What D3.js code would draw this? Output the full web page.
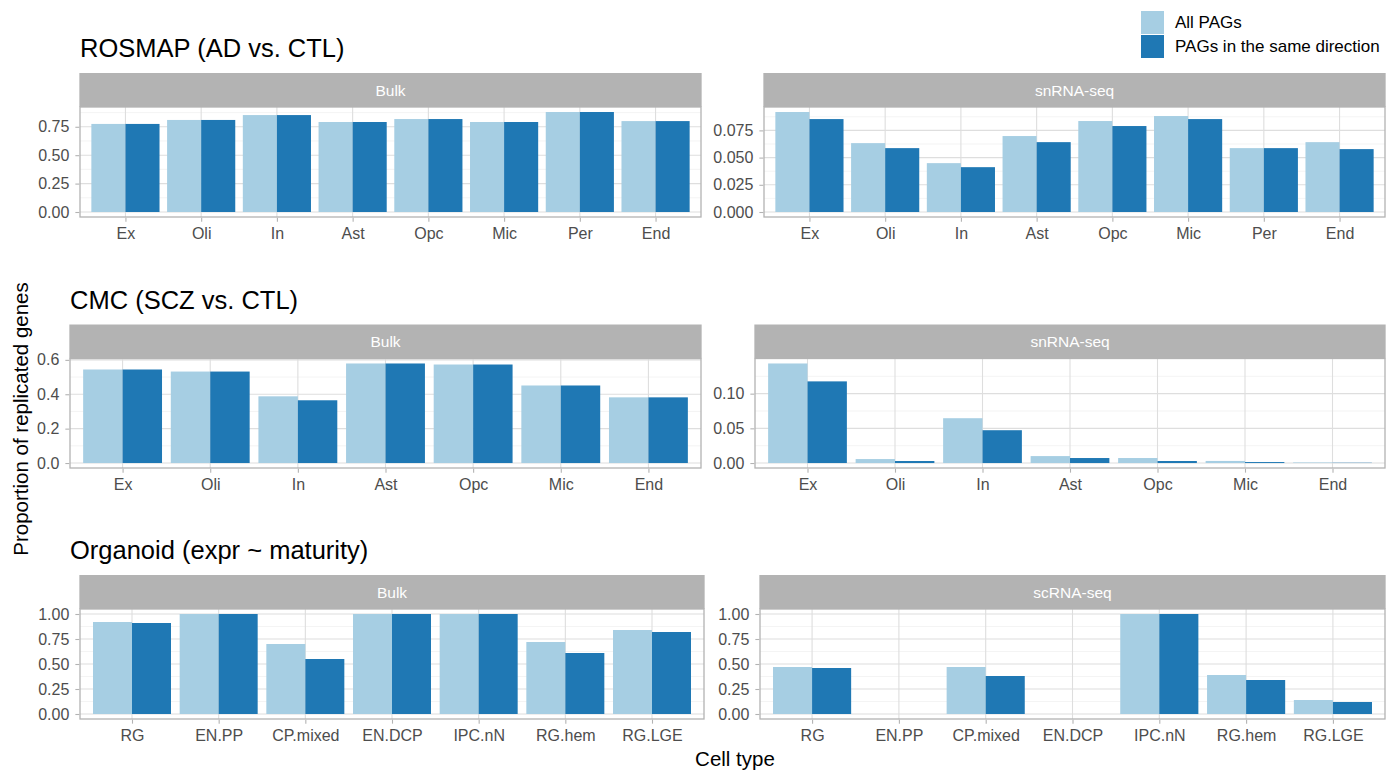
<!DOCTYPE html>
<html>
<head>
<meta charset="utf-8">
<script src="https://cdn.jsdelivr.net/npm/d3@7"></script>
<style>
  body { margin: 0; background: #fff; }
  svg { font-family: "Liberation Sans", Arial, sans-serif; }
</style>
</head>
<body>
<svg id="chart" width="1399" height="770"></svg>
<script>
// categories
let rosmapCats = ["Ex", "Oli", "In", "Ast", "Opc", "Mic", "Per", "End"]
let cmcCats = ["Ex", "Oli", "In", "Ast", "Opc", "Mic", "End"]
let orgCats = ["RG", "EN.PP", "CP.mixed", "EN.DCP", "IPC.nN", "RG.hem", "RG.LGE"]

// series: all PAGs / PAGs in the same direction
let rosmapBulkAll  = [0.775, 0.810, 0.853, 0.792, 0.818, 0.792, 0.880, 0.800]
let rosmapBulkSame = [0.775, 0.810, 0.853, 0.792, 0.818, 0.792, 0.880, 0.800]
let rosmapSnAll    = [0.0919, 0.0633, 0.0449, 0.0698, 0.0836, 0.0882, 0.0587, 0.0642]
let rosmapSnSame   = [0.0854, 0.0587, 0.0412, 0.0642, 0.0790, 0.0854, 0.0587, 0.0578]
let cmcBulkAll     = [0.544, 0.532, 0.388, 0.579, 0.573, 0.451, 0.382]
let cmcBulkSame    = [0.544, 0.532, 0.365, 0.579, 0.573, 0.451, 0.382]
let cmcSnAll       = [0.1435, 0.0057, 0.0646, 0.0100, 0.0072, 0.0030, 0.0008]
let cmcSnSame      = [0.1177, 0.0029, 0.0473, 0.0072, 0.0029, 0.0014, 0.0004]
let orgBulkAll     = [0.92, 1.00, 0.70, 1.00, 1.00, 0.72, 0.84]
let orgBulkSame    = [0.91, 1.00, 0.55, 1.00, 1.00, 0.61, 0.82]
let orgScAll       = [0.47, null, 0.47, null, 1.00, 0.39, 0.14]
let orgScSame      = [0.46, null, 0.38, null, 1.00, 0.34, 0.12]

// y tick labels per panel
let ticksRosmapBulk = [0, 0.25, 0.5, 0.75]
let ticksRosmapSn = [0, 0.025, 0.05, 0.075]
let ticksCmcBulk = [0, 0.2, 0.4, 0.6]
let ticksCmcSn = [0, 0.05, 0.10]
let ticksOrg = [0, 0.25, 0.5, 0.75, 1]

let seriesNames = ["All PAGs", "PAGs in the same direction"]
let seriesColors = ["#A6CEE3", "#1F78B4"]

let svg = d3.select("#chart")

let stripH = 34

// one entry per row: title + two facet panels
let rows = [
  { title: "ROSMAP (AD vs. CTL)", titleX: 80, top: 107, bottom: 217, panels: [
      { strip: "Bulk", x0: 80, x1: 701, cats: rosmapCats, a: rosmapBulkAll, b: rosmapBulkSame, ticks: ticksRosmapBulk, fmt: ".2f" },
      { strip: "snRNA-seq", x0: 764, x1: 1385, cats: rosmapCats, a: rosmapSnAll, b: rosmapSnSame, ticks: ticksRosmapSn, fmt: ".3f" } ] },
  { title: "CMC (SCZ vs. CTL)", titleX: 70, top: 358.5, bottom: 468, panels: [
      { strip: "Bulk", x0: 70, x1: 701, cats: cmcCats, a: cmcBulkAll, b: cmcBulkSame, ticks: ticksCmcBulk, fmt: ".1f" },
      { strip: "snRNA-seq", x0: 755, x1: 1385, cats: cmcCats, a: cmcSnAll, b: cmcSnSame, ticks: ticksCmcSn, fmt: ".2f" } ] },
  { title: "Organoid (expr ~ maturity)", titleX: 70, top: 609, bottom: 719, panels: [
      { strip: "Bulk", x0: 80, x1: 704, cats: orgCats, a: orgBulkAll, b: orgBulkSame, ticks: ticksOrg, fmt: ".2f" },
      { strip: "scRNA-seq", x0: 760, x1: 1385, cats: orgCats, a: orgScAll, b: orgScSame, ticks: ticksOrg, fmt: ".2f" } ] }
]

function drawPanel(p, top, bottom){
  let g = svg.append("g")
  let maxV = d3.max(p.a.concat(p.b).filter(v => v != null))
  let yscale = d3.scaleLinear().domain([-0.05 * maxV, 1.05 * maxV]).range([bottom, top])
  let xscale = d3.scalePoint().domain(p.cats).range([p.x0, p.x1]).padding(0.6)
  let step = xscale.step()
  let dodge = d3.scaleBand().domain([0, 1]).range([-0.45 * step, 0.45 * step])

  // minor grid lines (midpoints between ticks)
  let tstep = p.ticks[1] - p.ticks[0]
  let minor = []
  for(let v = p.ticks[0] - tstep / 2; v <= 1.05 * maxV; v += tstep){
    if(v >= -0.05 * maxV) minor.push(v)
  }
  g.selectAll(".minor").data(minor).enter().append("line")
    .attr("x1", p.x0).attr("x2", p.x1)
    .attr("y1", d => yscale(d)).attr("y2", d => yscale(d))
    .attr("stroke", "#EDEDED").attr("stroke-width", 0.6)

  g.selectAll(".majory").data(p.ticks).enter().append("line")
    .attr("x1", p.x0).attr("x2", p.x1)
    .attr("y1", d => yscale(d)).attr("y2", d => yscale(d))
    .attr("stroke", "#DEDEDE").attr("stroke-width", 1.1)

  g.selectAll(".majorx").data(p.cats).enter().append("line")
    .attr("x1", d => xscale(d)).attr("x2", d => xscale(d))
    .attr("y1", top).attr("y2", bottom)
    .attr("stroke", "#DEDEDE").attr("stroke-width", 1.1)

  // bars
  let series = [p.a, p.b]
  series.forEach(function(vals, si){
    g.selectAll(".bar" + si).data(vals.map((v, i) => [p.cats[i], v]).filter(d => d[1] != null))
      .enter().append("rect")
      .attr("x", d => xscale(d[0]) + dodge(si))
      .attr("width", dodge.bandwidth())
      .attr("y", d => yscale(Math.max(0, d[1])))
      .attr("height", d => Math.abs(yscale(0) - yscale(d[1])))
      .attr("fill", seriesColors[si])
  })

  // panel border
  g.append("rect")
    .attr("x", p.x0).attr("y", top)
    .attr("width", p.x1 - p.x0).attr("height", bottom - top)
    .attr("fill", "none").attr("stroke", "#B3B3B3").attr("stroke-width", 1.3)

  // strip
  g.append("rect")
    .attr("x", p.x0 - 0.65).attr("y", top - stripH)
    .attr("width", p.x1 - p.x0 + 1.3).attr("height", stripH)
    .attr("fill", "#B3B3B3")
  g.append("text")
    .attr("x", (p.x0 + p.x1) / 2).attr("y", top - stripH / 2)
    .attr("text-anchor", "middle").attr("dominant-baseline", "central")
    .attr("fill", "#FFFFFF").style("font-size", "15.5px")
    .text(p.strip)

  // axes
  let yAxis = d3.axisLeft(yscale).tickValues(p.ticks).tickFormat(d3.format(p.fmt)).tickSize(4).tickPadding(6)
  let ya = g.append("g").attr("transform", "translate(" + (p.x0 - 0.65) + ",0)").call(yAxis)
  let xAxis = d3.axisBottom(xscale).tickSize(4).tickPadding(6)
  let xa = g.append("g").attr("transform", "translate(0," + (bottom + 0.65) + ")").call(xAxis)
  ;[ya, xa].forEach(function(a){
    a.select(".domain").remove()
    a.selectAll(".tick line").attr("stroke", "#B3B3B3").attr("stroke-width", 1.1)
    a.selectAll(".tick text").attr("fill", "#4D4D4D").style("font-size", "16px")
      .style("font-family", "'Liberation Sans', Arial, sans-serif")
  })
}

rows.forEach(function(r){
  svg.append("text")
    .attr("x", r.titleX).attr("y", r.top - stripH - 16)
    .style("font-size", "25.5px").attr("fill", "#000")
    .text(r.title)
  r.panels.forEach(p => drawPanel(p, r.top, r.bottom))
})

// axis titles
svg.append("text")
  .attr("x", 735).attr("y", 766)
  .attr("text-anchor", "middle")
  .style("font-size", "20.5px")
  .text("Cell type")
svg.append("text")
  .attr("transform", "translate(28,419) rotate(-90)")
  .attr("text-anchor", "middle")
  .style("font-size", "20.5px")
  .text("Proportion of replicated genes")

// legend
let legend = svg.append("g").attr("transform", "translate(1141,11)")
seriesNames.forEach(function(name, i){
  legend.append("rect")
    .attr("x", 0).attr("y", i * 24)
    .attr("width", 23).attr("height", 23)
    .attr("fill", seriesColors[i])
  legend.append("text")
    .attr("x", 34).attr("y", i * 24 + 11.5)
    .attr("dominant-baseline", "central")
    .style("font-size", "17px")
    .text(name)
})
</script>
</body>
</html>
